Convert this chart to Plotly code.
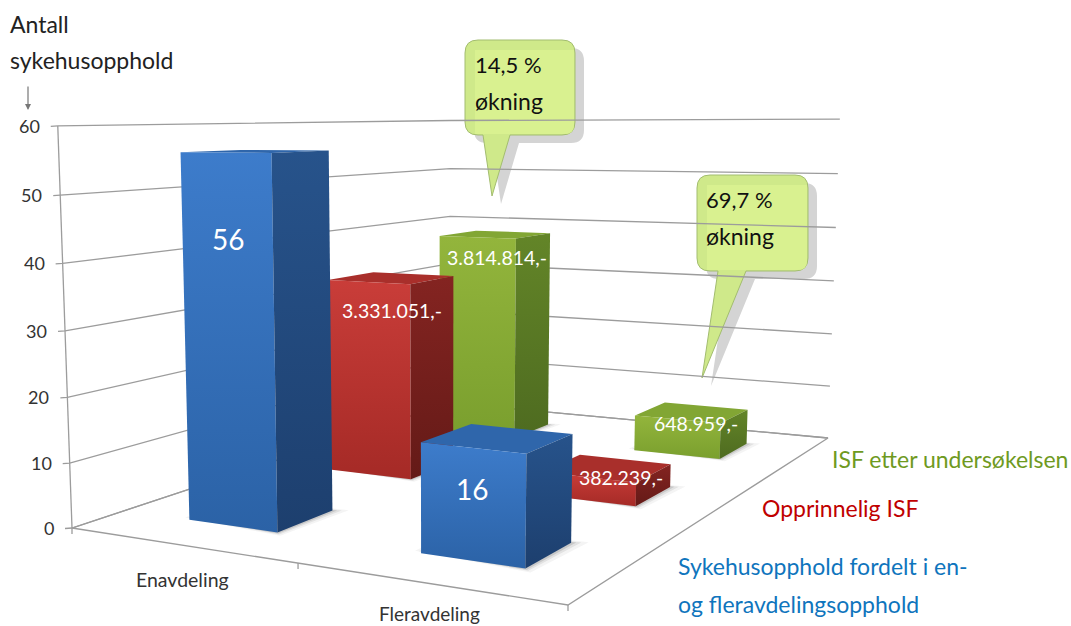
import numpy as np
import plotly.graph_objects as go

# Chart data
categories = ["Enavdeling", "Fleravdeling"]
stays = [56, 16]
isf_original = [3331051, 382239]
isf_after = [3814814, 648959]
value_ticks = [0, 10, 20, 30, 40, 50, 60]
increase_labels = ["14,5 %", "69,7 %"]

W, H = 1071, 626
FONT = "Lato"
KR_PER_UNIT = 100000  # ISF amounts share the stay-count axis in units of 100 000 kr

# Pinhole camera for the 3D box: category axis 0..2, series axis 0..3, value axis 0..60
floor_src = np.array([[0, 0], [2, 0], [2, 3], [0, 3]], float)
floor_dst = np.array([[72, 528], [568, 605], [828, 438], [450, 403]], float)
top_src = [(0, 0), (2, 3), (0, 3)]
top_dst = [(58, 127), (840, 121), (450, 118)]


def solve_camera():
    rows, rhs = [], []
    for (x, y), (u, v) in zip(floor_src, floor_dst):
        rows.append([x, y, 1, 0, 0, 0, -u * x, -u * y]); rhs.append(u)
        rows.append([0, 0, 0, x, y, 1, -v * x, -v * y]); rhs.append(v)
    h = np.append(np.linalg.solve(np.array(rows), np.array(rhs)), 1).reshape(3, 3)
    rows, rhs = [], []
    for (x, y), (u, v) in zip(top_src, top_dst):
        z = 60.0
        w0 = h[2] @ [x, y, 1]
        rows.append([z, 0, -u * z]); rhs.append(u * w0 - h[0] @ [x, y, 1])
        rows.append([0, z, -v * z]); rhs.append(v * w0 - h[1] @ [x, y, 1])
    c = np.linalg.lstsq(np.array(rows), np.array(rhs), rcond=None)[0]
    return np.c_[h[:, 0], h[:, 1], c, h[:, 2]]


CAM = solve_camera()


def project(x, y, z=0.0):
    p = CAM @ np.array([x, y, z, 1.0])
    return p[0] / p[2], p[1] / p[2]


fig = go.Figure()


def line(points, color="#9c9c9c", width=1.3):
    fig.add_trace(go.Scatter(x=[p[0] for p in points], y=[p[1] for p in points], mode="lines",
                             line=dict(color=color, width=width), hoverinfo="skip"))


def polygon(points, color=None, gradient=None):
    xs = [p[0] for p in points] + [points[0][0]]
    ys = [p[1] for p in points] + [points[0][1]]
    kw = {}
    if gradient:
        kw["fillgradient"] = dict(type="vertical", start=min(ys), stop=max(ys),
                                  colorscale=[[0, gradient[0]], [1, gradient[1]]])
    else:
        kw["fillcolor"] = color
    fig.add_trace(go.Scatter(x=xs, y=ys, mode="lines", fill="toself", line=dict(width=0),
                             hoverinfo="skip", **kw))


# Back walls: value gridlines with a short tick on the left of the axis
for v in value_ticks:
    a = project(0, 0, v); d = project(0, 3, v); c = project(2, 3, v)
    line([(a[0] - 7, a[1] + 0.5), a, d, c])
line([project(0, 0, 0), project(0, 0, 60)])
# Floor outline and category ticks
line([project(0, 3), project(0, 0), project(2, 0), project(2, 3), project(0, 3)])
for i in range(3):
    p = project(i, 0)
    line([p, (p[0], p[1] + 6)])

BAR_HX, BAR_HY = 0.2, 0.19
PALETTE = [
    dict(front=("#3d7ccb", "#2b62a6"), side=("#27538b", "#1d3f6e"), top="#2f66ab"),
    dict(front=("#c93d39", "#a52a26"), side=("#842421", "#641a17"), top="#a92f2b"),
    dict(front=("#93b53c", "#7a9f2e"), side=("#638528", "#4e6b20"), top="#82a634"),
]


def bar(cat, ser, value):
    pal = PALETTE[ser]
    cx, cy = cat + 0.508, ser + 0.5
    x0, x1, y0, y1 = cx - BAR_HX, cx + BAR_HX, cy - BAR_HY, cy + BAR_HY
    # contact shadow on the floor
    for grow, alpha in [(0.035, 0.05), (0.02, 0.09), (0.01, 0.14)]:
        polygon([project(x0 - grow, y0 + 0.02), project(x1 + grow, y0 - grow),
                 project(x1 + grow * 1.5, y1 + grow), project(x0 - grow, y1)],
                color=f"rgba(40,40,40,{alpha})")
    polygon([project(x0, y0, value), project(x1, y0, value), project(x1, y1, value), project(x0, y1, value)],
            color=pal["top"])
    polygon([project(x0, y0, value), project(x1, y0, value), project(x1, y0), project(x0, y0)],
            gradient=pal["front"])
    polygon([project(x1, y0, value), project(x1, y1, value), project(x1, y1), project(x1, y0)],
            gradient=pal["side"])


series_heights = [stays, [v / KR_PER_UNIT for v in isf_original], [v / KR_PER_UNIT for v in isf_after]]
# painter's order, far bars first
for cat, ser in [(0, 2), (0, 1), (1, 2), (1, 1), (0, 0), (1, 0)]:
    bar(cat, ser, series_heights[ser][cat])


def money(v):
    return f"{v:,}".replace(",", ".") + ",-"


def text(s, x, y, size, color, anchor="left"):
    fig.add_annotation(text=s, x=x, y=y, xref="x", yref="y", showarrow=False, xanchor=anchor, yanchor="middle",
                       font=dict(family=FONT, size=size, color=color))


def bar_label(s, cat, ser, frac, size, dx=0, dy=0):
    value = series_heights[ser][cat]
    p = project(cat + 0.5, ser + 0.5 - BAR_HY, value * frac)
    text(s, p[0] + dx, p[1] + dy, size, "white", "center")


bar_label(str(stays[0]), 0, 0, 0.78, 28, 3, 2)
bar_label(str(stays[1]), 1, 0, 0.6, 28, 2, -4)
bar_label(money(isf_original[0]), 0, 1, 0.82, 19.5, 25, -7)
bar_label(money(isf_original[1]), 1, 1, 0.6, 19.5, 35, -9)
bar_label(money(isf_after[0]), 0, 2, 0.88, 19.5, 21, -4)
bar_label(money(isf_after[1]), 1, 2, 0.6, 19.5, 21, -10)

# Value tick labels
for v in value_ticks:
    p = project(0, 0, v)
    text(str(v), p[0] - 16, p[1], 18, "#333333", "right")

# Category labels
text(categories[0], 182.5, 579, 19.5, "#333333", "center")
text(categories[1], 429, 613, 19, "#333333", "center")

# Axis heading and its little arrow
text("Antall", 8, 24, 23, "#222222")
text("sykehusopphold", 8, 60, 23, "#222222")
fig.add_annotation(x=28, y=110, ax=28, ay=85, xref="x", yref="y", axref="x", ayref="y", text="", showarrow=True,
                   arrowhead=2, arrowsize=1, arrowwidth=1.2, arrowcolor="#777777")

# Series captions
text("ISF etter undersøkelsen", 830, 459, 23, "#6f9a1f")
text("Opprinnelig ISF", 760, 508, 23, "#c00000")
text("Sykehusopphold fordelt i en-", 676, 566, 23, "#0f75bd")
text("og fleravdelingsopphold", 676, 604, 23, "#0f75bd")


def bubble(l, t, r, b, tail, rad=13, dx=0, dy=0):
    """Rounded speech bubble path with a pointed tail hanging from its lower edge."""
    l, t, r, b = l + dx, t + dy, r + dx, b + dy
    (t0, tip, t1) = [(a + dx, c + dy) for a, c in tail]
    return (f"M{l + rad},{t} L{r - rad},{t} Q{r},{t} {r},{t + rad} L{r},{b - rad} Q{r},{b} {r - rad},{b} "
            f"L{t1[0]},{b} L{tip[0]},{tip[1]} L{t0[0]},{b} L{l + rad},{b} Q{l},{b} {l},{b - rad} "
            f"L{l},{t + rad} Q{l},{t} {l + rad},{t} Z")


shapes = []
boxes = [((465, 40, 575, 135), [(483, 135), (492, 196), (510, 135)]),
         ((697, 175, 808, 271), [(718, 271), (702, 378), (746, 271)])]
for n, ((l, t, r, b), tail) in enumerate(boxes):
    common = dict(type="path", xref="x", yref="y", layer="below")
    shapes.append(dict(common, path=bubble(l, t, r, b, tail, dx=9, dy=8), fillcolor="#d4d4d4", line=dict(width=0)))
    shapes.append(dict(common, path=bubble(l, t, r, b, tail), fillcolor="#cfe98a", line=dict(color="#a3bd70", width=1)))
    shapes.append(dict(common, path=f"M{l + 10},{t + 10} L{r - 1},{t + 10} L{r - 1},{b - 10} Q{r - 1},{b - 1} {r - 10},{b - 1} L{l + 10},{b - 1} Z",
                       fillcolor="#d9f190", line=dict(width=0)))
    text(increase_labels[n], l + 8 - n, t + 24, 22, "#111111")
    text("økning", l + 8 - n, t + 61, 23, "#111111")

fig.update_layout(
    width=W, height=H, margin=dict(l=0, r=0, t=0, b=0), showlegend=False,
    paper_bgcolor="white", plot_bgcolor="white", shapes=shapes,
    xaxis=dict(range=[0, W], visible=False, fixedrange=True),
    yaxis=dict(range=[H, 0], visible=False, fixedrange=True),
)
fig.write_html("out.html", config=dict(displayModeBar=False))
